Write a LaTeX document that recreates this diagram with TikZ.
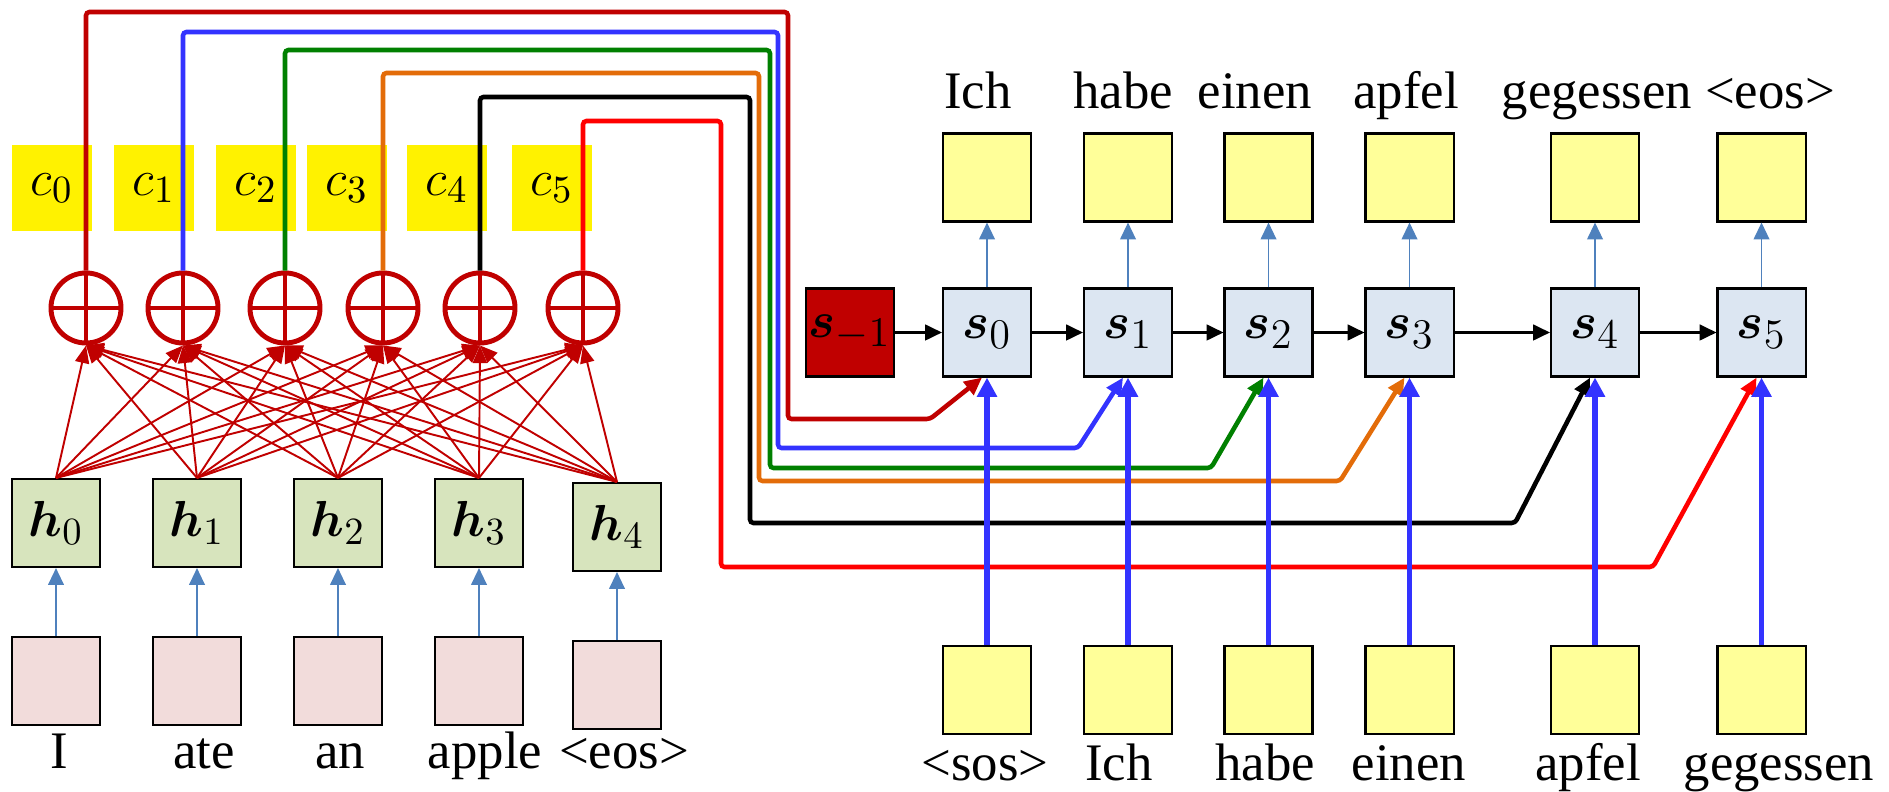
\documentclass[tikz,border=0pt]{standalone}
\usepackage{amsmath}
\usepackage{bm}
\usepackage{fontspec}
\setmainfont{Liberation Serif}
\usetikzlibrary{arrows.meta, positioning, calc}
\definecolor{DarkRed}{HTML}{C00000}
\definecolor{PinkIn}{HTML}{F2DCDB}
\definecolor{GreenEnc}{HTML}{D7E4BD}
\definecolor{BlueDec}{HTML}{DCE6F2}
\definecolor{PaleYellow}{HTML}{FFFF99}
\definecolor{SteelArrow}{HTML}{4F81BD}
\definecolor{BrightBlue}{HTML}{3333FF}
\definecolor{CtxGreen}{HTML}{008000}
\definecolor{CtxOrange}{HTML}{E36C09}
\definecolor{CtxRed}{HTML}{FF0000}
\newcommand{\ssub}[1]{$\bm{s}_{\hbox{\fontsize{13}{13}\selectfont$#1$}}$}

\begin{document}
\begin{tikzpicture}[x=0.01cm, y=-0.01cm,
    box/.style={draw=black, line width=0.6pt, minimum width=0.88cm, minimum height=0.88cm, inner sep=0pt, font=\fontsize{15}{18}\selectfont},
    inbox/.style={box, fill=PinkIn},
    enc/.style={box, fill=GreenEnc},
    dec/.style={box, fill=BlueDec},
    init/.style={box, fill=DarkRed},
    outbox/.style={box, fill=PaleYellow},
    ctxbox/.style={fill=yellow, minimum width=0.8cm, minimum height=0.86cm, inner sep=0pt, font=\fontsize{15}{18}\selectfont},
    plus/.style={circle, draw=DarkRed, line width=1.4pt, minimum size=0.7cm, inner sep=0pt},
    word/.style={font=\fontsize{15}{18}\selectfont, inner sep=0pt, anchor=base},
    feed/.style={SteelArrow, line width=0.4pt, -{Triangle[length=4.8pt, width=4.5pt]}},
    attn/.style={DarkRed, line width=0.55pt, -{Triangle[length=5pt, width=4pt]}},
    recur/.style={black, line width=0.6pt, -{Triangle[length=4.8pt, width=4.5pt]}},
    prev/.style={BrightBlue, line width=1.6pt, -{Triangle[length=5.5pt, width=5.5pt]}},
    ctx/.style={line width=1.3pt, rounded corners=1pt, -{Triangle[length=5pt, width=4.6pt]}}
]
\useasboundingbox (0,0) rectangle (1889,792);

% Encoder: source words and hidden states
\foreach \i/\x/\dy in {0/56/0, 1/197/0, 2/338/0, 3/479/0, 4/617/4} {
    \node[inbox] (x\i) at (\x, 681+\dy) {};
    \node[enc] (h\i) at (\x, 523+\dy) {$\bm{h}_\i$};
    \draw[feed] (x\i.north) -- (h\i.south);
}
\foreach \i/\x/\w in {0/59/I, 1/204/ate, 2/340/an, 3/485/apple, 4/624/{<eos>}}
    \node[word] (w\i) at (\x, 768) {\w};

% Context vectors
\foreach \j/\x in {0/52, 1/154, 2/256, 3/347, 4/447, 5/552}
    \node[ctxbox] (c\j) at (\x, 188) {$c_\j$};

% Weighted sums
\foreach \j/\x in {0/86, 1/183, 2/285, 3/383, 4/480, 5/583} {
    \node[plus] (p\j) at (\x, 308) {};
    \draw[DarkRed, line width=1.4pt] (p\j.north) -- (p\j.south) (p\j.west) -- (p\j.east);
}
\foreach \i in {0,...,4}
    \foreach \j in {0,...,5}
        \draw[attn] (h\i.north) -- (p\j.south);

% Decoder states, outputs and inputs
\node[init] (sm) at (850, 332.5) {\ssub{-1}};
\foreach \j/\x in {0/987, 1/1128, 2/1268.5, 3/1409.5, 4/1595, 5/1761.5} {
    \node[dec] (s\j) at (\x, 332.5) {\ssub{\j}};
    \node[outbox] (o\j) at (\x, 177.5) {};
    \node[outbox] (y\j) at (\x, 690) {};
    \draw[feed] (s\j.north) -- (o\j.south);
}
\foreach \a/\b in {sm/s0, s0/s1, s1/s2, s2/s3, s3/s4, s4/s5}
    \draw[recur] (\a) -- (\b);

\foreach \j/\x/\w in {0/978/Ich, 1/1123/habe, 2/1255/einen, 3/1406/apfel, 4/1597/gegessen, 5/1770/{<eos>}}
    \node[word] (t\j) at (\x, 109) {\w};
\foreach \j/\x/\w in {0/985/{<sos>}, 1/1119/Ich, 2/1265/habe, 3/1409/einen, 4/1588/apfel, 5/1779/gegessen}
    \node[word] (b\j) at (\x, 780) {\w};

% Context routed into each decoder step
\foreach \j/\clr/\ytop/\xr/\yb/\xb in {0/DarkRed/12/788/419/930, 1/BrightBlue/32/778/448/1078, 2/CtxGreen/50/770/468/1211, 3/CtxOrange/73/759/481/1340, 4/black/97/750/523/1515, 5/CtxRed/121/721/567/1653}
    \draw[ctx, \clr] (p\j.north) |- (\xr, \ytop) |- (\xb, \yb) -- ([xshift=-0.05cm]s\j.south);

% Previous output fed back in
\foreach \j in {0,...,5}
    \draw[prev] (y\j.north) -- (s\j.south);
\end{tikzpicture}
\end{document}
